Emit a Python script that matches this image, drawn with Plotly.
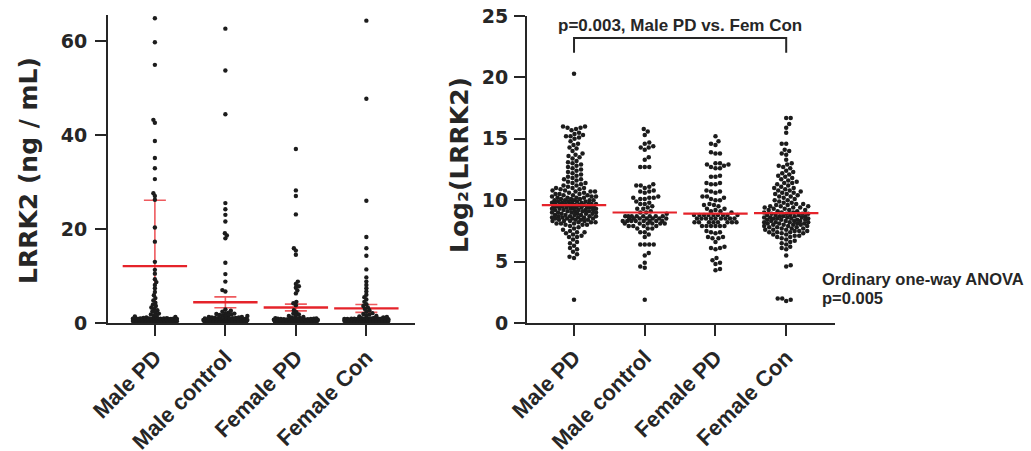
import numpy as np
import plotly.graph_objects as go

W, H = 1031, 451

categories = ["Male PD", "Male control", "Female PD", "Female Con"]

# ---- LRRK2 concentration (ng / mL) per group ----
male_pd_ng = [
    64.8, 59.7, 54.9, 43.2, 42.6, 38.7, 35.1, 32.9, 30.6, 27.6, 27.0, 26.2,
    20.3, 17.3, 13.0, 11.3, 10.5, 9.3, 8.7, 8.1, 7.4, 6.6, 5.9, 5.3, 4.8,
    4.3, 3.9, 3.6, 3.3, 3.0, 2.7, 2.5, 2.2, 2.0, 1.8, 1.6, 1.5, 1.4, 1.3,
    1.2, 1.1, 1.0,
    0.99, 0.97, 0.96, 0.95, 0.93, 0.92, 0.92, 0.90, 0.89, 0.88,
    0.87, 0.86, 0.85, 0.84, 0.84, 0.83, 0.82, 0.81, 0.80, 0.79,
    0.78, 0.78, 0.77, 0.76, 0.75, 0.74, 0.73, 0.72, 0.72, 0.71,
    0.70, 0.69, 0.68, 0.67, 0.67, 0.66, 0.65, 0.64, 0.63, 0.62,
    0.61, 0.61, 0.60, 0.59, 0.58, 0.57, 0.56, 0.56, 0.55, 0.54,
    0.53, 0.52, 0.51, 0.50, 0.50, 0.49, 0.48, 0.47, 0.46, 0.45,
    0.45, 0.44, 0.43, 0.42, 0.41, 0.40, 0.39, 0.39, 0.38, 0.37,
    0.36, 0.35, 0.34, 0.33, 0.33, 0.32, 0.31, 0.30, 0.29, 0.28,
    0.27, 0.26, 0.25, 0.24, 0.23, 0.22, 0.21, 0.20, 0.19, 0.18,
    0.17, 0.16, 0.15, 0.14, 0.13, 0.12, 0.11, 0.10, 0.09, 0.08,
]
male_control_ng = [
    62.6, 53.7, 44.4, 25.5, 24.2, 23.0, 21.6, 19.1, 18.6, 18.0, 12.8, 10.4,
    8.8, 7.0, 6.7,
    2.9, 2.6, 2.4, 2.2, 2.1, 2.0, 1.9, 1.8, 1.7, 1.6, 1.5, 1.5, 1.4,
    1.3, 1.3, 1.2, 1.2, 1.1, 1.1, 1.0, 1.0,
    0.98, 0.95, 0.93, 0.90, 0.88, 0.86, 0.83, 0.81, 0.79, 0.77,
    0.75, 0.73, 0.71, 0.69, 0.67, 0.66, 0.64, 0.62, 0.60, 0.58,
    0.57, 0.55, 0.53, 0.52, 0.50, 0.48, 0.47, 0.45, 0.43, 0.42,
    0.40, 0.38, 0.37, 0.35, 0.33, 0.31, 0.30, 0.28, 0.26, 0.24,
    0.22, 0.20, 0.18, 0.16, 0.14, 0.12, 0.10, 0.08, 0.07, 0.05,
]
female_pd_ng = [
    37.0, 28.2, 27.0, 23.1, 15.9, 15.4, 14.5, 8.8, 8.3, 7.8, 7.5, 6.9, 6.3,
    4.5, 4.2, 3.8,
    2.7, 2.3, 2.0, 1.8, 1.6, 1.5, 1.3, 1.2, 1.1, 1.0,
    0.98, 0.96, 0.93, 0.91, 0.89, 0.86, 0.84, 0.82, 0.80, 0.78,
    0.76, 0.74, 0.72, 0.70, 0.68, 0.66, 0.64, 0.62, 0.61, 0.59,
    0.57, 0.55, 0.53, 0.51, 0.49, 0.47, 0.46, 0.44, 0.42, 0.40,
    0.38, 0.36, 0.34, 0.32, 0.30, 0.28, 0.26, 0.24, 0.22, 0.20,
    0.18, 0.16, 0.14, 0.12, 0.10, 0.08, 0.06,
]
female_con_ng = [
    64.3, 47.7, 26.0, 18.3, 15.9, 14.3, 11.4, 9.7, 8.8, 8.1, 7.4, 6.7, 6.0,
    5.5, 5.0, 4.5, 4.0, 3.6, 3.3,
    3.0, 2.7, 2.4, 2.1, 1.9, 1.8, 1.6, 1.5, 1.4, 1.3, 1.2, 1.1, 1.0,
    0.99, 0.97, 0.95, 0.94, 0.92, 0.90, 0.89, 0.87, 0.86, 0.84,
    0.83, 0.81, 0.80, 0.79, 0.77, 0.76, 0.74, 0.73, 0.72, 0.70,
    0.69, 0.68, 0.66, 0.65, 0.64, 0.62, 0.61, 0.60, 0.58, 0.57,
    0.56, 0.55, 0.53, 0.52, 0.51, 0.50, 0.48, 0.47, 0.46, 0.45,
    0.44, 0.42, 0.41, 0.40, 0.39, 0.38, 0.37, 0.35, 0.34, 0.33,
    0.32, 0.31, 0.30, 0.29, 0.27, 0.26, 0.25, 0.24, 0.23, 0.22,
    0.21, 0.20, 0.19, 0.18, 0.17, 0.16, 0.15, 0.14, 0.13, 0.12,
    0.11, 0.10, 0.09, 0.08, 0.07, 0.06,
]

# mean and error bar extents for the concentration panel
raw_mean = [12.1, 4.4, 3.3, 3.1]
raw_err_plus = [14.0, 1.15, 0.72, 0.85]
raw_err_minus = [11.8, 1.15, 0.72, 0.85]

# ---- Log2(LRRK2) per group ----
male_pd_log2 = [
    20.3,
    16.0, 16.0, 15.9, 15.9, 15.8, 15.7, 15.5, 15.4,
    15.3, 15.2, 15.2, 15.1, 15.0,
    14.8, 14.6, 14.5, 14.3, 14.2, 14.0,
    13.8, 13.7, 13.6, 13.5, 13.4, 13.2, 13.1, 13.0,
    12.9, 12.8, 12.7, 12.6, 12.5, 12.4, 12.3, 12.2, 12.1, 12.0,
    11.9, 11.8, 11.7, 11.7, 11.6, 11.5, 11.4, 11.4, 11.3, 11.2, 11.2, 11.1,
    11.0, 11.0, 11.0,
    10.9, 10.9, 10.8, 10.8, 10.7, 10.7, 10.7, 10.6, 10.6, 10.5, 10.5, 10.5,
    10.4, 10.4, 10.4, 10.3, 10.3, 10.3, 10.2, 10.2, 10.2, 10.2, 10.1, 10.1,
    10.1, 10.0, 10.0, 10.0, 10.0, 10.0,
    9.9, 9.9, 9.9, 9.9, 9.8, 9.8, 9.8, 9.8, 9.7, 9.7, 9.7, 9.7, 9.7,
    9.6, 9.6, 9.6, 9.6, 9.6, 9.5, 9.5, 9.5, 9.5, 9.5, 9.4, 9.4, 9.4, 9.4,
    9.4, 9.3, 9.3, 9.3, 9.3, 9.3, 9.2, 9.2, 9.2, 9.2, 9.2, 9.1, 9.1, 9.1,
    9.1, 9.0, 9.0, 9.0, 9.0,
    8.9, 8.9, 8.9, 8.9, 8.8, 8.8, 8.8, 8.8, 8.7, 8.7, 8.7, 8.7, 8.6, 8.6,
    8.6, 8.6, 8.5, 8.5, 8.5, 8.5, 8.4, 8.4, 8.4, 8.4, 8.3, 8.3, 8.3, 8.3,
    8.2, 8.2, 8.2, 8.1, 8.1, 8.1, 8.0, 8.0, 8.0,
    7.9, 7.8, 7.7, 7.6, 7.5, 7.4, 7.4, 7.3, 7.2, 7.1, 7.0, 7.0,
    6.8, 6.6, 6.5, 6.3, 6.1, 6.0,
    5.8, 5.6, 5.4, 5.3,
    1.9,
]
male_control_log2 = [
    15.8, 15.6, 15.3,
    14.7, 14.6, 14.4, 14.3, 14.3, 14.1,
    13.5, 13.3,
    12.7, 12.7, 12.7,
    11.3, 11.2, 11.2, 11.1, 11.0,
    10.8, 10.7, 10.7, 10.6,
    10.3, 10.2, 10.2, 10.2, 10.1, 10.1,
    9.9, 9.8, 9.7, 9.7,
    9.5, 9.4, 9.3, 9.3,
    9.1, 9.0, 9.0, 8.9,
    8.7, 8.7, 8.7, 8.7, 8.7, 8.7, 8.7, 8.7,
    8.5, 8.5, 8.5, 8.5, 8.5, 8.5, 8.5,
    8.3, 8.3, 8.3, 8.3, 8.3, 8.3, 8.3, 8.3,
    8.1, 8.1, 8.1, 8.1, 8.1, 8.1,
    7.9, 7.9, 7.9, 7.9,
    7.7, 7.7, 7.7,
    7.4, 7.4, 7.2, 7.0,
    6.4, 6.4, 6.4, 6.4,
    5.7, 5.5,
    4.9, 4.6, 4.5,
    1.9,
]
female_pd_log2 = [
    15.2,
    14.8, 14.6, 14.5,
    13.9, 13.8, 13.8,
    13.0, 13.0, 12.9, 12.9, 12.8, 12.7, 12.6, 12.6,
    12.0, 11.9, 11.9,
    11.4, 11.4, 11.3, 11.3,
    10.8, 10.7, 10.7, 10.6,
    10.3, 10.3, 10.2, 10.1, 10.0, 10.0,
    9.7, 9.6, 9.6, 9.5,
    9.3, 9.3, 9.2, 9.1, 9.1, 9.0,
    8.8, 8.8, 8.8, 8.8, 8.8, 8.8, 8.8, 8.8, 8.8,
    8.5, 8.5, 8.5, 8.5, 8.5, 8.5, 8.5, 8.5, 8.5,
    8.2, 8.2, 8.2, 8.2, 8.2, 8.2, 8.2, 8.2,
    7.9, 7.9, 7.9, 7.9, 7.9, 7.9,
    7.5, 7.4, 7.4, 7.3,
    7.0, 7.0, 6.9, 6.9,
    6.6,
    6.2, 6.1, 6.1, 6.0,
    5.3, 5.1, 4.9, 4.8,
    4.4, 4.3,
]
female_con_log2 = [
    16.7, 16.7, 16.2, 15.9, 15.5,
    14.6, 14.6,
    14.1, 14.0, 13.8, 13.7,
    13.3,
    13.0, 12.9, 12.8, 12.7, 12.6,
    12.4, 12.3, 12.2, 12.1, 12.0, 11.9, 11.8, 11.7,
    11.6, 11.5, 11.4, 11.4, 11.3, 11.2, 11.1, 11.0, 11.0, 10.9,
    10.8, 10.8, 10.7, 10.6, 10.6, 10.5, 10.5, 10.4, 10.3, 10.3, 10.2, 10.1,
    10.0, 10.0,
    9.9, 9.8, 9.8, 9.7, 9.7, 9.6, 9.6, 9.5, 9.5, 9.5, 9.4, 9.4, 9.4, 9.3,
    9.3, 9.2, 9.2, 9.2, 9.1, 9.1, 9.0, 9.0, 9.0,
    8.9, 8.9, 8.9, 8.9, 8.8, 8.8, 8.8, 8.8, 8.7, 8.7, 8.7, 8.7, 8.6, 8.6,
    8.6, 8.6, 8.5, 8.5, 8.5, 8.5, 8.4, 8.4, 8.4, 8.4, 8.3, 8.3, 8.3, 8.3,
    8.2, 8.2, 8.2, 8.2, 8.1, 8.1, 8.1, 8.1, 8.0, 8.0, 8.0, 8.0,
    7.9, 7.9, 7.9, 7.8, 7.8, 7.8, 7.7, 7.7, 7.7, 7.6, 7.6, 7.6, 7.5, 7.5,
    7.5, 7.4, 7.4, 7.4, 7.3, 7.3, 7.2, 7.2, 7.1, 7.1, 7.0, 7.0,
    6.9, 6.8, 6.7, 6.6, 6.5, 6.4, 6.2, 6.1, 6.0,
    5.5,
    4.7, 4.6,
    2.0, 2.0, 1.9, 1.8,
]

# center line of each group in the log panel
log2_center = [9.6, 9.0, 8.9, 8.95]

raw_yticks = [0, 20, 40, 60]
log2_yticks = [0, 5, 10, 15, 20, 25]

raw_groups = [male_pd_ng, male_control_ng, female_pd_ng, female_con_ng]
log2_groups = [male_pd_log2, male_control_log2, female_pd_log2, female_con_log2]

# ---- layout geometry (pixels) ----
LEFT_BOX = (108, 415, 15, 323)    # x0, x1, top, bottom
RIGHT_BOX = (527, 835, 16, 323)
X_RANGE = [-0.665, 3.69]
RAW_RANGE = [0, 65.5]
LOG_RANGE = [0, 25]

INK = "#1c1c1c"
AXIS = "#262626"
RED = "#e5232a"
RED_BAR = "#ee5a5e"
FONT = "Arial"
WIDE_FONT = "DejaVu Sans"


def xdom(box):
    return [box[0] / W, box[1] / W]


def ydom(box):
    return [1 - box[3] / H, 1 - box[2] / H]


def swarm_offsets(values, px_per_y, px_per_x, dot=4.6, half_width=22.0):
    """Beeswarm x offsets (data units) so dots sit side by side."""
    v = np.asarray(values, float)
    ypx = v * px_per_y
    order = np.argsort(v, kind="stable")
    grid = np.arange(-half_width, half_width + 1e-9, 0.5)
    pos_first = grid[np.lexsort((-grid, np.abs(grid)))]
    neg_first = grid[np.lexsort((grid, np.abs(grid)))]
    px_list, py_list = [], []
    offs = np.zeros(len(v))
    for k, i in enumerate(order):
        y = ypx[i]
        cand = pos_first if k % 2 else neg_first
        x = 0.0
        if py_list:
            py = np.array(py_list)
            pxa = np.array(px_list)
            near = np.abs(py - y) < dot
            if near.any():
                dy = py[near] - y
                dx = pxa[near]
                dist = np.sqrt((cand[:, None] - dx[None, :]) ** 2
                               + dy[None, :] ** 2).min(axis=1)
                ok = np.where(dist >= dot)[0]
                x = cand[ok[0]] if len(ok) else cand[int(np.argmax(dist))]
        px_list.append(x)
        py_list.append(y)
        offs[i] = x
    return offs / px_per_x


def scales(box, yrange):
    px_x = (box[1] - box[0]) / (X_RANGE[1] - X_RANGE[0])
    px_y = (box[3] - box[2]) / (yrange[1] - yrange[0])
    return px_x, px_y


fig = go.Figure()

# ---- left panel: concentration with mean and error bars ----
lpx, lpy = scales(LEFT_BOX, RAW_RANGE)
fig.add_trace(go.Scatter(
    x=list(range(len(categories))), y=raw_mean, mode="markers",
    xaxis="x", yaxis="y", cliponaxis=True, showlegend=False,
    marker=dict(symbol="line-ew", size=46, line=dict(color=RED, width=2.4)),
    error_y=dict(type="data", symmetric=False, array=raw_err_plus,
                 arrayminus=raw_err_minus, color=RED_BAR, thickness=1.6,
                 width=11),
))
for gi, vals in enumerate(raw_groups):
    off = swarm_offsets(vals, lpy, lpx, dot=3.0)
    fig.add_trace(go.Scatter(
        x=gi + off, y=vals, mode="markers", xaxis="x", yaxis="y",
        cliponaxis=False, showlegend=False,
        marker=dict(size=4.4, color=INK, line=dict(width=0)),
    ))

# ---- right panel: log2 values with center line ----
rpx, rpy = scales(RIGHT_BOX, LOG_RANGE)
for gi, vals in enumerate(log2_groups):
    off = swarm_offsets(vals, rpy, rpx, dot=4.5)
    fig.add_trace(go.Scatter(
        x=gi + off, y=vals, mode="markers", xaxis="x2", yaxis="y2",
        cliponaxis=False, showlegend=False,
        marker=dict(size=4.5, color=INK, line=dict(width=0)),
    ))
fig.add_trace(go.Scatter(
    x=list(range(len(categories))), y=log2_center, mode="markers",
    xaxis="x2", yaxis="y2", showlegend=False,
    marker=dict(symbol="line-ew", size=46, line=dict(color=RED, width=2.2)),
))

tickfont = dict(family=WIDE_FONT, size=19, color=AXIS, weight="bold")
xtickfont = dict(family=FONT, size=22, color=AXIS, weight="bold")

common_x = dict(
    range=X_RANGE, tickmode="array", tickvals=list(range(len(categories))),
    ticktext=categories, tickangle=-45, ticks="outside", ticklen=11,
    tickwidth=2, tickcolor=AXIS, showline=True, linewidth=2, linecolor=AXIS,
    showgrid=False, zeroline=False, tickfont=xtickfont, fixedrange=True,
    automargin=False,
)
common_y = dict(
    ticks="outside", ticklen=11, tickwidth=2, tickcolor=AXIS, showline=True,
    linewidth=2, linecolor=AXIS, showgrid=False, zeroline=False,
    tickfont=tickfont, tickmode="array", fixedrange=True, automargin=False,
)

# comparison bracket between Male PD and Female Con
b_left, b_right = categories.index("Male PD"), categories.index("Female Con")
b_low, b_high = 22.0, 23.2

title_font = dict(family=WIDE_FONT, size=25, color=AXIS, weight="bold")
note_font = dict(family=FONT, size=16.5, color=AXIS, weight="bold")

fig.update_layout(
    width=W, height=H, margin=dict(l=0, r=0, t=0, b=0, autoexpand=False),
    paper_bgcolor="white", plot_bgcolor="white", showlegend=False,
    xaxis=dict(domain=xdom(LEFT_BOX), anchor="y", **common_x),
    yaxis=dict(domain=ydom(LEFT_BOX), anchor="x", range=RAW_RANGE,
               tickvals=raw_yticks, ticklabelstandoff=4, **common_y),
    xaxis2=dict(domain=xdom(RIGHT_BOX), anchor="y2", **common_x),
    yaxis2=dict(domain=ydom(RIGHT_BOX), anchor="x2", range=LOG_RANGE,
                tickvals=log2_yticks, ticklabelstandoff=2, **common_y),
    shapes=[dict(
        type="path", xref="x2", yref="y2",
        path=(f"M {b_left},{b_low} L {b_left},{b_high} "
              f"L {b_right},{b_high} L {b_right},{b_low}"),
        line=dict(color=AXIS, width=2),
    )],
    annotations=[
        dict(text="LRRK2 (ng / mL)", textangle=-90, xref="paper",
             yref="paper", x=28 / W, y=1 - 171 / H, showarrow=False,
             xanchor="center", yanchor="middle", font=title_font),
        dict(text="Log₂(LRRK2)", textangle=-90, xref="paper",
             yref="paper", x=459 / W, y=1 - 165 / H, showarrow=False,
             xanchor="center", yanchor="middle", font=title_font),
        dict(text="p=0.003, Male PD vs. Fem Con", xref="x2", yref="y2",
             x=(b_left + b_right) / 2, y=24.2, showarrow=False,
             xanchor="center", yanchor="middle",
             font=dict(family=FONT, size=17, color=AXIS, weight="bold")),
        dict(text="Ordinary one-way ANOVA", xref="paper", yref="paper",
             x=820 / W, y=1 - 279 / H, showarrow=False, xanchor="left",
             yanchor="middle", font=note_font),
        dict(text="p=0.005", xref="paper", yref="paper",
             x=820 / W, y=1 - 298 / H, showarrow=False, xanchor="left",
             yanchor="middle", font=note_font),
    ],
)

fig.write_html("out.html")
